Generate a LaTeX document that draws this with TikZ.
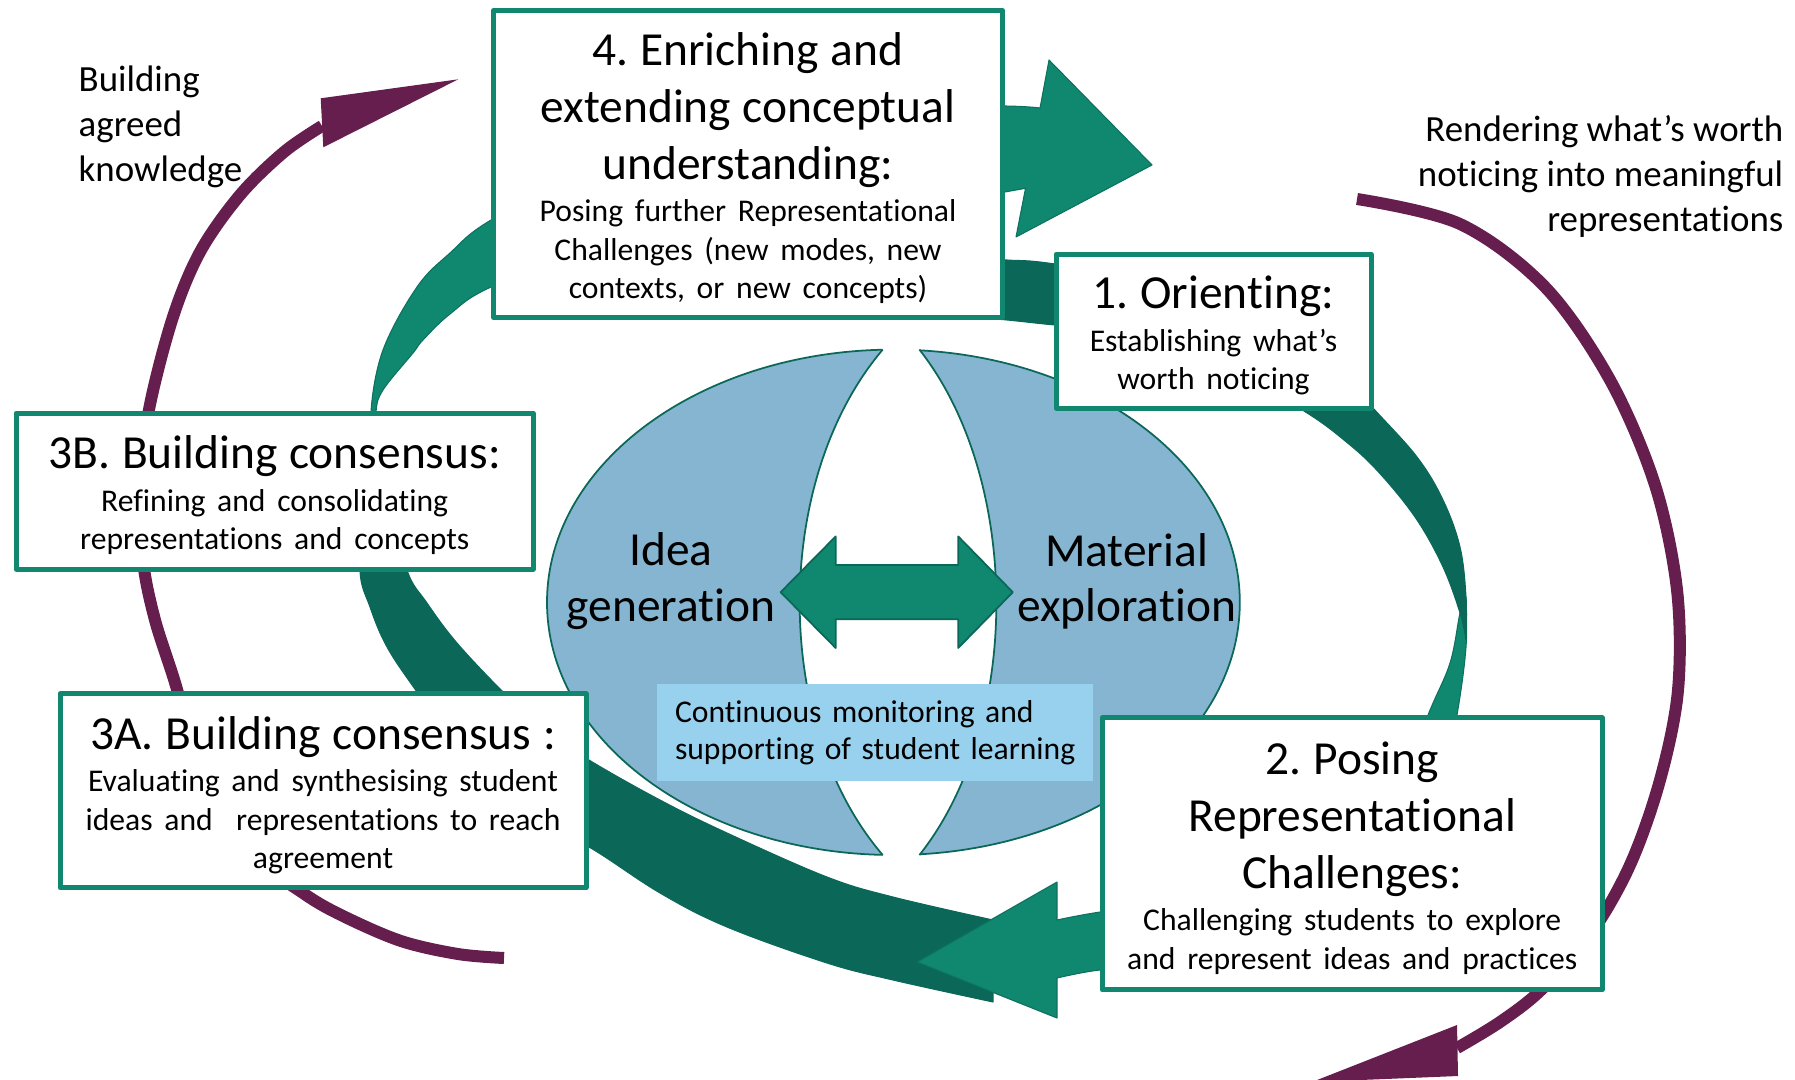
\documentclass[tikz,border=0pt]{standalone}
\usepackage{fontspec}
\setmainfont{Carlito}[Ligatures = NoCommon]
\usepackage{tikz}
\usetikzlibrary{positioning}

\definecolor{boxteal}{HTML}{12876F}
\definecolor{ribbonlight}{HTML}{10876F}
\definecolor{ribbondark}{HTML}{0B6858}
\definecolor{arcpurple}{HTML}{651E4E}
\definecolor{ideablue}{HTML}{85B5D1}
\definecolor{monblue}{HTML}{98D1EE}

\frenchspacing
\newcommand{\stagehead}[1]{{\fontsize{13.5}{16.1}\selectfont\rule{0pt}{11.8pt}#1\par}}
\newcommand{\stagetext}[1]{\vskip 1.3pt{\fontsize{9}{10.9}\selectfont #1\par}}

\begin{document}
\begin{tikzpicture}[
            x = 0.1mm, % one unit = one pixel of the sketch
            y = -0.1mm, % y grows downwards
            line join = round
        ]

        \tikzstyle{stage}=[
            draw = boxteal,
            line width = 0.5mm,
            fill = white,
            inner sep = 0pt,
            align = center
        ]
        \tikzstyle{ribbon light}=[fill = ribbonlight, draw = ribbondark!70!ribbonlight, line width = 0.3pt]
        \tikzstyle{ribbon dark}=[fill = ribbondark, draw = ribbondark, line width = 0.3pt]
        \tikzstyle{knowledge arc}=[draw = arcpurple, line width = 1.2mm]
        \tikzstyle{side label}=[inner sep = 0pt, font = \fontsize{10.5}{12.8}\selectfont]
        \tikzstyle{centre label}=[inner sep = 0pt, text width = 30mm, align = center, font = \fontsize{13.5}{15.8}\selectfont]

        \useasboundingbox (0,0) rectangle (1795,1079);
        \clip (0,0) rectangle (1795,1079);

	% outer arcs
        \coordinate (agreedStart) at (504,958);
        \coordinate (agreedEnd) at (322,126);
        \draw[knowledge arc] plot[smooth, tension=0.55] coordinates {(agreedStart) (458,954) (401,941) (343,916) (303,893) (240,845) (195,770) (178,693) (155,620) (143,560) (142,490) (148,415) (172,320) (200,252) (240,195) (284,152) (agreedEnd)};
        \fill[arcpurple] (320.7,98.3) -- (458.3,79.3) -- (323.3,147.3) -- cycle;

        \coordinate (renderStart) at (1357,199);
        \coordinate (renderEnd) at (1457,1048);
        \draw[knowledge arc] plot[smooth, tension=0.55] coordinates {(renderStart) (1460,224) (1545,287) (1610,380) (1655,485) (1677,590) (1678,690) (1660,780) (1630,865) (1590,935) (1541,990) (1500,1022) (renderEnd)};
        \fill[arcpurple] (1457,1025) -- (1312,1082) -- (1458,1076) -- cycle;

	% idea / material ellipse
        \draw[fill = ideablue, draw = ribbondark, line width = 0.5pt] (893.4,602.3) ellipse [x radius = 34.64mm, y radius = 25.27mm];
        \fill[white] (882.7,344) -- (882.7,349.6) .. controls (772,480) and (772,726) .. (882.7,855) -- (882.7,861) -- (919.4,861) -- (919.4,855) .. controls (1022,726) and (1022,480) .. (919.4,349.6) -- (919.4,344) -- cycle;
        \draw[ribbondark, line width = 0.5pt] (882.7,349.6) .. controls (772,480) and (772,726) .. (882.7,855);
        \draw[ribbondark, line width = 0.5pt] (919.4,349.6) .. controls (1022,480) and (1022,726) .. (919.4,855);

        \draw[fill = ribbonlight, draw = ribbondark, line width = 0.5pt] (780.6,592.2) -- (835.7,536.4) -- (835.7,565) -- (958.2,565) -- (958.2,536.4) -- (1012.8,592.2) -- (958.2,648) -- (958.2,619.3) -- (835.7,619.3) -- (835.7,648) -- cycle;

        \node[centre label] (idea) at (671,581) {Idea\\ generation};
        \node[centre label] (material) at (1126.5,581.5) {Material\\ exploration};

	% ribbons of the cycle
        \path[ribbon dark] plot[smooth, tension=0.6] coordinates {(993,920) (893,897) (827,877) (727,833) (660,800) (589,760) (540,727) (503,692) (457,643) (427,603) (407,570) (392,500) (378,430)} -- plot[smooth, tension=0.6] coordinates {(378,430) (366,500) (360,570) (370,607) (387,647) (417,692) (470,765) (530,818) (589,847) (660,893) (727,927) (827,963) (893,980) (993,1002)} -- cycle;

        \path[ribbon light] plot[smooth, tension=0.6] coordinates {(378,440) (371,412) (383,350) (417,287) (450,253) (491,220) (600,163) (750,124) (900,106) (1005,106) (1040,108)} -- (1049,60) -- (1152,165) -- (1016,237) -- (1025.5,188.3) -- plot[smooth, tension=0.6] coordinates {(1005,192) (900,192) (750,208) (600,245) (491,287) (450,314) (423,340) (413,353) (383,390) (376,412) (378,440)} -- cycle;

        \path[ribbon light] plot[smooth, tension=0.6] coordinates {(1466,598) (1466,647) (1457,715) (1440,800) (1385,885) (1280,948) (1160,967) (1100,970) (1057,978)} -- (1057,1018) -- (917,962) -- (1057,882) -- plot[smooth, tension=0.6] coordinates {(1057,920) (1100,912) (1200,898) (1330,850) (1400,790) (1428,715) (1450,663) (1460,613) (1466,598)} -- cycle;

        \path[ribbon dark] plot[smooth, tension=0.6] coordinates {(960,257) (1007,260) (1055,264) (1200,288) (1330,361) (1373,408) (1417,457) (1443,500) (1460,547) (1466,597) (1466,640)} -- plot[smooth, tension=0.6] coordinates {(1466,640) (1460,613) (1443,567) (1417,520) (1383,477) (1350,445) (1299,408) (1200,355) (1100,328) (1055,325) (1007,320) (960,316)} -- cycle;

	% stages
        \node[stage, minimum width = 50.9mm, minimum height = 30.7mm, text width = 48mm] (enrich) at (748,164)
            {\stagehead{4. Enriching and\\ extending conceptual\\ understanding:}\stagetext{Posing further Representational\\ Challenges (new modes, new\\ contexts, or new concepts)}};
        \node[stage, minimum width = 31.5mm, minimum height = 15.4mm, text width = 30mm] (orient) at (1213.5,331.2)
            {\stagehead{1. Orienting:}\stagetext{Establishing what’s\\ worth noticing}};
        \node[stage, minimum width = 50mm, minimum height = 27.2mm, text width = 48mm] (posing) at (1352.2,853.9)
            {\stagehead{2. Posing\\ Representational\\ Challenges:}\stagetext{Challenging students to explore\\ and represent ideas and practices}};
        \node[stage, minimum width = 52.6mm, minimum height = 19.4mm, text width = 51mm] (consA) at (323,790.8)
            {\stagehead{3A. Building consensus :}\stagetext{Evaluating and synthesising student\\ ideas and\ \ representations to reach\\ agreement}};
        \node[stage, minimum width = 51.7mm, minimum height = 15.6mm, text width = 50mm] (consB) at (274.7,491.2)
            {\stagehead{3B. Building consensus:}\stagetext{Refining and consolidating\\ representations and concepts}};

        \node[fill = monblue, minimum width = 43.6mm, minimum height = 9.64mm, text width = 41.2mm, inner xsep = 1.2mm, inner ysep = 0pt, align = left, font = \fontsize{9}{10.4}\selectfont] (monitor) at (875,732.5)
            {\hspace*{0.6mm}Continuous monitoring and\\ \hspace*{0.6mm}supporting of student learning};

	% labels of the arcs
        \node[side label, anchor = west, align = left] (agreed) at (78,127) {Building\\ agreed\\ knowledge};
        \node[side label, anchor = east, align = right] (render) at (1784,176) {Rendering what’s worth\\ noticing into meaningful\\ representations};

  \end{tikzpicture}
\end{document}
